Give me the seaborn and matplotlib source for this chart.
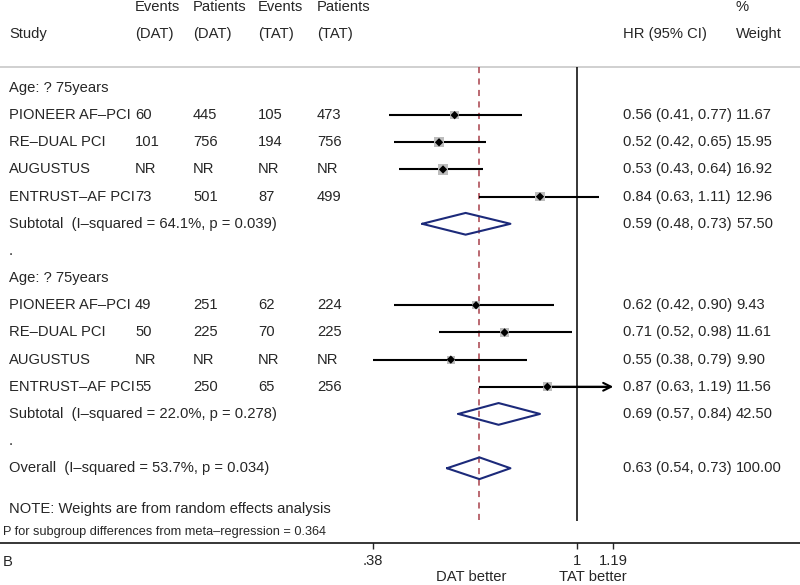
import numpy as np
import pandas as pd
import matplotlib
matplotlib.use("Agg")
import matplotlib.pyplot as plt
import seaborn as sns

# ---- data ----
studies = ["PIONEER AF–PCI", "RE–DUAL PCI", "AUGUSTUS", "ENTRUST–AF PCI"]
group_label = "Age: ? 75years"

g1_events_dat = ["60", "101", "NR", "73"]
g1_pts_dat    = ["445", "756", "NR", "501"]
g1_events_tat = ["105", "194", "NR", "87"]
g1_pts_tat    = ["473", "756", "NR", "499"]
g1_hr  = [0.56, 0.52, 0.53, 0.84]
g1_lo  = [0.41, 0.42, 0.43, 0.63]
g1_hi  = [0.77, 0.65, 0.64, 1.11]
g1_wt  = [11.67, 15.95, 16.92, 12.96]

g2_events_dat = ["49", "50", "NR", "55"]
g2_pts_dat    = ["251", "225", "NR", "250"]
g2_events_tat = ["62", "70", "NR", "65"]
g2_pts_tat    = ["224", "225", "NR", "256"]
g2_hr  = [0.62, 0.71, 0.55, 0.87]
g2_lo  = [0.42, 0.52, 0.38, 0.63]
g2_hi  = [0.90, 0.98, 0.79, 1.19]
g2_wt  = [9.43, 11.61, 9.90, 11.56]

sub_hr  = [0.59, 0.69]
sub_lo  = [0.48, 0.57]
sub_hi  = [0.73, 0.84]
sub_wt  = [57.50, 42.50]
sub_het = ["I–squared = 64.1%, p = 0.039", "I–squared = 22.0%, p = 0.278"]

overall = dict(hr=0.63, lo=0.54, hi=0.73, wt=100.00, het="I–squared = 53.7%, p = 0.034")

xticks = [0.38, 1, 1.19]
xtick_labels = [".38", "1", "1.19"]
ci_max = 1.19
note = "NOTE: Weights are from random effects analysis"
p_note = "P for subgroup differences from meta–regression = 0.364"

# ---- layout ----
sns.set_style("white")
plt.rcParams["font.family"] = ["Liberation Sans", "DejaVu Sans"]

W, H = 800, 585
fig = plt.figure(figsize=(8, 5.85), dpi=100)
axis_px = 542.5
ax = fig.add_axes([0, (H - axis_px) / H, 1, axis_px / H])
ax.set_xscale("log")
ax.set_xlim(0.0646, 2.889)
row0_px, row_h = 88.0, 27.16
ax.set_ylim((axis_px - row0_px) / row_h, -row0_px / row_h)
tr = ax.get_yaxis_transform()

fs = 10.6
col_x = dict(name=9, ev_dat=135, pt_dat=193, ev_tat=258, pt_tat=317, hr=623, wt=736)

def txt(px, row, s, **kw):
    kw.setdefault("fontsize", fs)
    ax.text(px / W, row, s, transform=tr, va="center", ha="left", **kw)

# header
for key, s in [("ev_dat", "Events"), ("pt_dat", "Patients"), ("ev_tat", "Events"),
               ("pt_tat", "Patients"), ("wt", "%")]:
    txt(col_x[key], -3, s)
for key, s in [("name", "Study"), ("ev_dat", "(DAT)"), ("pt_dat", "(DAT)"), ("ev_tat", "(TAT)"),
               ("pt_tat", "(TAT)"), ("hr", "HR (95% CI)"), ("wt", "Weight")]:
    txt(col_x[key], -2, s)
ax.axhline(-0.78, color="#c8c8c8", lw=1.2, zorder=1)

# build rows
groups = [
    (g1_events_dat, g1_pts_dat, g1_events_tat, g1_pts_tat, g1_hr, g1_lo, g1_hi, g1_wt),
    (g2_events_dat, g2_pts_dat, g2_events_tat, g2_pts_tat, g2_hr, g2_lo, g2_hi, g2_wt),
]
recs = []
row = 0
sub_rows = []
for gi, (ed, pd_, et, pt, hr, lo, hi, wt) in enumerate(groups):
    txt(col_x["name"], row, group_label)
    row += 1
    for i in range(len(studies)):
        recs.append(dict(study=studies[i], row=row, hr=hr[i], lo=lo[i], hi=hi[i], wt=wt[i]))
        txt(col_x["name"], row, studies[i])
        txt(col_x["ev_dat"], row, ed[i])
        txt(col_x["pt_dat"], row, pd_[i])
        txt(col_x["ev_tat"], row, et[i])
        txt(col_x["pt_tat"], row, pt[i])
        txt(col_x["hr"], row, f"{hr[i]:.2f} ({lo[i]:.2f}, {hi[i]:.2f})")
        txt(col_x["wt"], row, f"{wt[i]:.2f}")
        row += 1
    txt(col_x["name"], row, f"Subtotal  ({sub_het[gi]})")
    txt(col_x["hr"], row, f"{sub_hr[gi]:.2f} ({sub_lo[gi]:.2f}, {sub_hi[gi]:.2f})")
    txt(col_x["wt"], row, f"{sub_wt[gi]:.2f}")
    sub_rows.append(row)
    row += 1
    txt(col_x["name"], row, ".")
    row += 1
overall_row = row
txt(col_x["name"], row, f"Overall  ({overall['het']})")
txt(col_x["hr"], row, f"{overall['hr']:.2f} ({overall['lo']:.2f}, {overall['hi']:.2f})")
txt(col_x["wt"], row, f"{overall['wt']:.2f}")
txt(col_x["name"], row + 1.5, note)
txt(3, row + 2.34, p_note, fontsize=9.2)

df = pd.DataFrame(recs)

# reference lines
line_top, line_bot = -0.78, 15.96
ax.vlines(1, line_top, line_bot, color="black", lw=1.1, zorder=2)
ax.vlines(overall["hr"], line_top, line_bot, color="#a8404a", lw=1.1,
          linestyles=(0, (4, 3.5)), zorder=2)

# study CIs
for r in df.itertuples():
    if r.hi >= ci_max:
        ax.hlines(r.row, r.lo, ci_max * 0.985, color="black", lw=1.5, zorder=3)
        ax.annotate("", xy=(ci_max, r.row), xytext=(r.hr, r.row),
                    arrowprops=dict(arrowstyle="->", lw=1.5, color="black",
                                    mutation_scale=14, shrinkA=0, shrinkB=0), zorder=3)
    else:
        ax.hlines(r.row, r.lo, r.hi, color="black", lw=1.5, zorder=3)

k = 3.3
sns.scatterplot(data=df, x="hr", y="row", size="wt", sizes=(df.wt.min() * k, df.wt.max() * k),
                size_norm=(df.wt.min(), df.wt.max()), marker="s", color="#bdbdbd",
                edgecolor="none", legend=False, ax=ax, zorder=4)
sns.scatterplot(data=df, x="hr", y="row", marker="D", s=18, color="black",
                edgecolor="none", legend=False, ax=ax, zorder=5)

# pooled diamonds
dh = 0.4
for hr, lo, hi, r in list(zip(sub_hr, sub_lo, sub_hi, sub_rows)) + \
        [(overall["hr"], overall["lo"], overall["hi"], overall_row)]:
    ax.plot([lo, hr, hi, hr, lo], [r, r - dh, r, r + dh, r], color="#1c2a7a", lw=1.5, zorder=5)

# axis
for s in ["top", "left", "right"]:
    ax.spines[s].set_visible(False)
ax.spines["bottom"].set_color("black")
ax.spines["bottom"].set_linewidth(1.1)
ax.set_xticks(xticks)
ax.set_xticklabels(xtick_labels)
ax.minorticks_off()
ax.set_yticks([])
ax.tick_params(axis="x", direction="out", length=4, width=1, labelsize=fs, pad=4, bottom=True)
ax.set_xlabel("")
ax.set_ylabel("")

bot_row = (577 - row0_px) / row_h
ax.text(471 / W, bot_row, "DAT better", transform=tr, ha="center", va="center", fontsize=fs, clip_on=False)
ax.text(593 / W, bot_row, "TAT better", transform=tr, ha="center", va="center", fontsize=fs, clip_on=False)
ax.text(3 / W, (562.5 - row0_px) / row_h, "B", transform=tr, ha="left", va="center", fontsize=fs, clip_on=False)

fig.savefig("out.png", dpi=100)
